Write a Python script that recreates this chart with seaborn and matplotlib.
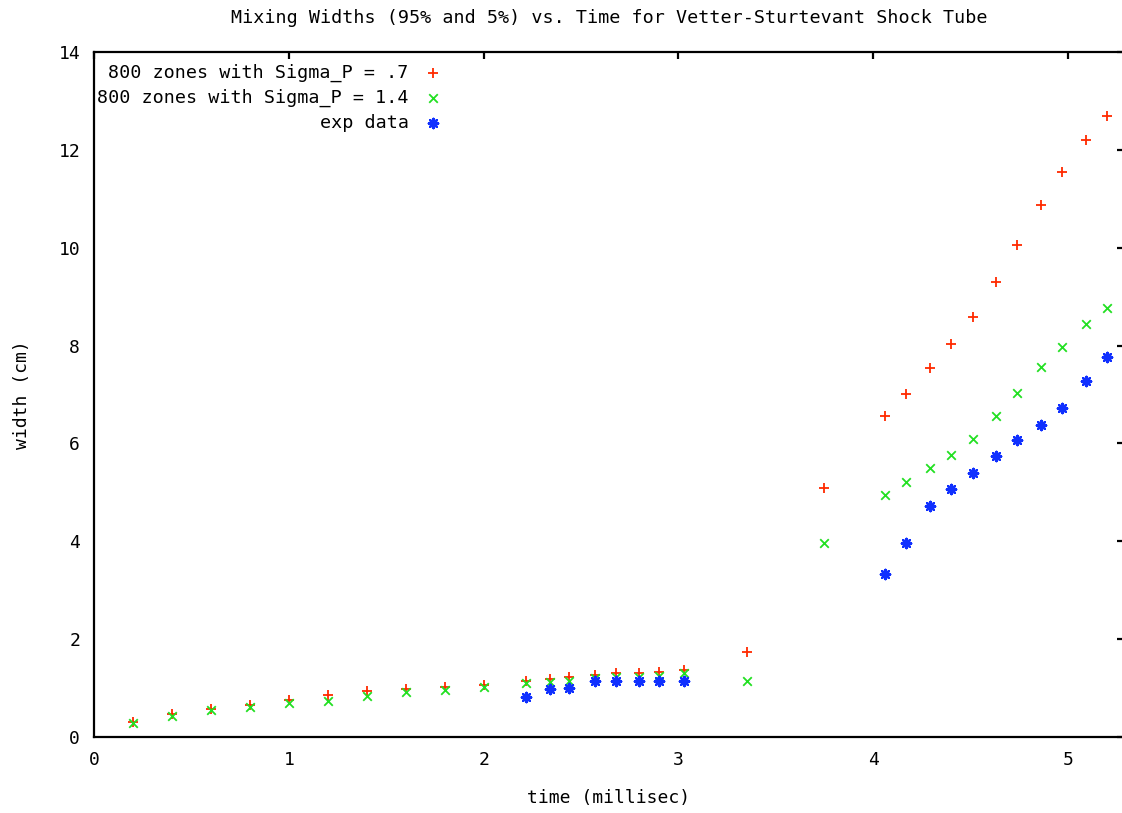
import matplotlib
matplotlib.use("Agg")
import matplotlib.pyplot as plt
import seaborn as sns

# Simulated mixing widths (cm) at each output time (millisec)
t_sim = [0.2, 0.4, 0.6, 0.8, 1.0, 1.2, 1.4, 1.6, 1.8, 2.0, 2.22, 2.34, 2.44, 2.57,
         2.68, 2.8, 2.9, 3.03, 3.35, 3.75, 4.06, 4.17, 4.29, 4.4, 4.51, 4.63,
         4.74, 4.86, 4.97, 5.09, 5.2]
width_sigma_07 = [0.30, 0.47, 0.58, 0.66, 0.76, 0.85, 0.93, 0.99, 1.03, 1.07, 1.15,
                  1.19, 1.22, 1.27, 1.30, 1.30, 1.32, 1.37, 1.74, 5.09, 6.56, 7.01,
                  7.54, 8.03, 8.58, 9.30, 10.06, 10.87, 11.55, 12.20, 12.69]
width_sigma_14 = [0.28, 0.43, 0.55, 0.62, 0.69, 0.73, 0.84, 0.92, 0.96, 1.03, 1.10,
                  1.13, 1.15, 1.20, 1.22, 1.22, 1.25, 1.30, 1.14, 3.97, 4.94, 5.22,
                  5.50, 5.77, 6.10, 6.56, 7.04, 7.57, 7.98, 8.44, 8.77]

# Experimental measurements
t_exp = [2.22, 2.34, 2.44, 2.57, 2.68, 2.8, 2.9, 3.03, 4.06, 4.17, 4.29, 4.4,
         4.51, 4.63, 4.74, 4.86, 4.97, 5.09, 5.2]
width_exp = [0.82, 0.99, 1.00, 1.14, 1.15, 1.15, 1.15, 1.15, 3.33, 3.97, 4.72,
             5.06, 5.40, 5.74, 6.07, 6.38, 6.72, 7.28, 7.77]

labels = ["800 zones with Sigma_P = .7", "800 zones with Sigma_P = 1.4", "exp data"]
x_ticks = [0, 1, 2, 3, 4, 5]
y_ticks = [0, 2, 4, 6, 8, 10, 12, 14]

sns.set_style("white")
plt.rcParams["font.family"] = ["DejaVu Sans Mono", "DejaVu Sans"]
plt.rcParams["font.size"] = 13
plt.rcParams["text.color"] = "black"
plt.rcParams["axes.labelcolor"] = "black"
plt.rcParams["xtick.color"] = "black"
plt.rcParams["ytick.color"] = "black"

W, H = 1122, 813
fig = plt.figure(figsize=(W / 100, H / 100), dpi=100)
left, right, top, bottom = 94, 1124, 52, 737
ax = fig.add_axes([left / W, 1 - bottom / H, (right - left) / W, (bottom - top) / H])

sns.scatterplot(x=t_sim, y=width_sigma_07, ax=ax, marker="+", color="#ff2a00",
                s=50, linewidth=1.3, label=labels[0])
sns.scatterplot(x=t_sim, y=width_sigma_14, ax=ax, marker="x", color="#22e022",
                s=38, linewidth=1.3, label=labels[1])
sns.scatterplot(x=t_exp, y=width_exp, ax=ax, marker=(8, 2, 0), color="#1030ff",
                s=45, linewidth=1.7, label=labels[2])

ax.set_xlim(0, (right - left) / 194.8)
ax.set_ylim(0, 14)
ax.set_xticks(x_ticks)
ax.set_yticks(y_ticks)
ax.set_xticklabels([str(v) for v in x_ticks])
ax.set_yticklabels([str(v) for v in y_ticks])

for side in ["left", "bottom", "top", "right"]:
    ax.spines[side].set_visible(True)
    ax.spines[side].set_color("black")
    ax.spines[side].set_linewidth(1.6)
ax.tick_params(axis="both", direction="in", length=5, width=1.6, color="black",
               labelcolor="black", labelsize=13, top=True, right=True)
ax.tick_params(axis="x", pad=10)
ax.tick_params(axis="y", pad=10)

ax.set_xlabel("time (millisec)", fontsize=13, color="black")
ax.set_ylabel("width (cm)", fontsize=13, color="black")
ax.xaxis.set_label_coords(0.5, -(798 - bottom) / (bottom - top), transform=ax.transAxes)
ax.xaxis.label.set_va("center")
ax.yaxis.set_label_coords((22 - left) / (right - left), 0.5, transform=ax.transAxes)
ax.yaxis.label.set_va("center")

fig.text(609 / W, 1 - 18 / H, "Mixing Widths (95% and 5%) vs. Time for Vetter-Sturtevant Shock Tube",
         ha="center", va="center", fontsize=13.2, color="black")

leg = ax.legend(loc="upper left", bbox_to_anchor=(97 / W, 1 - 64 / H),
                bbox_transform=fig.transFigure, frameon=False, markerfirst=False,
                borderpad=0, borderaxespad=0, handlelength=1.0, handletextpad=0.85,
                labelspacing=0.36, fontsize=13.2)
for txt in leg.get_texts():
    txt.set_color("black")

fig.savefig("out.png", dpi=100)
